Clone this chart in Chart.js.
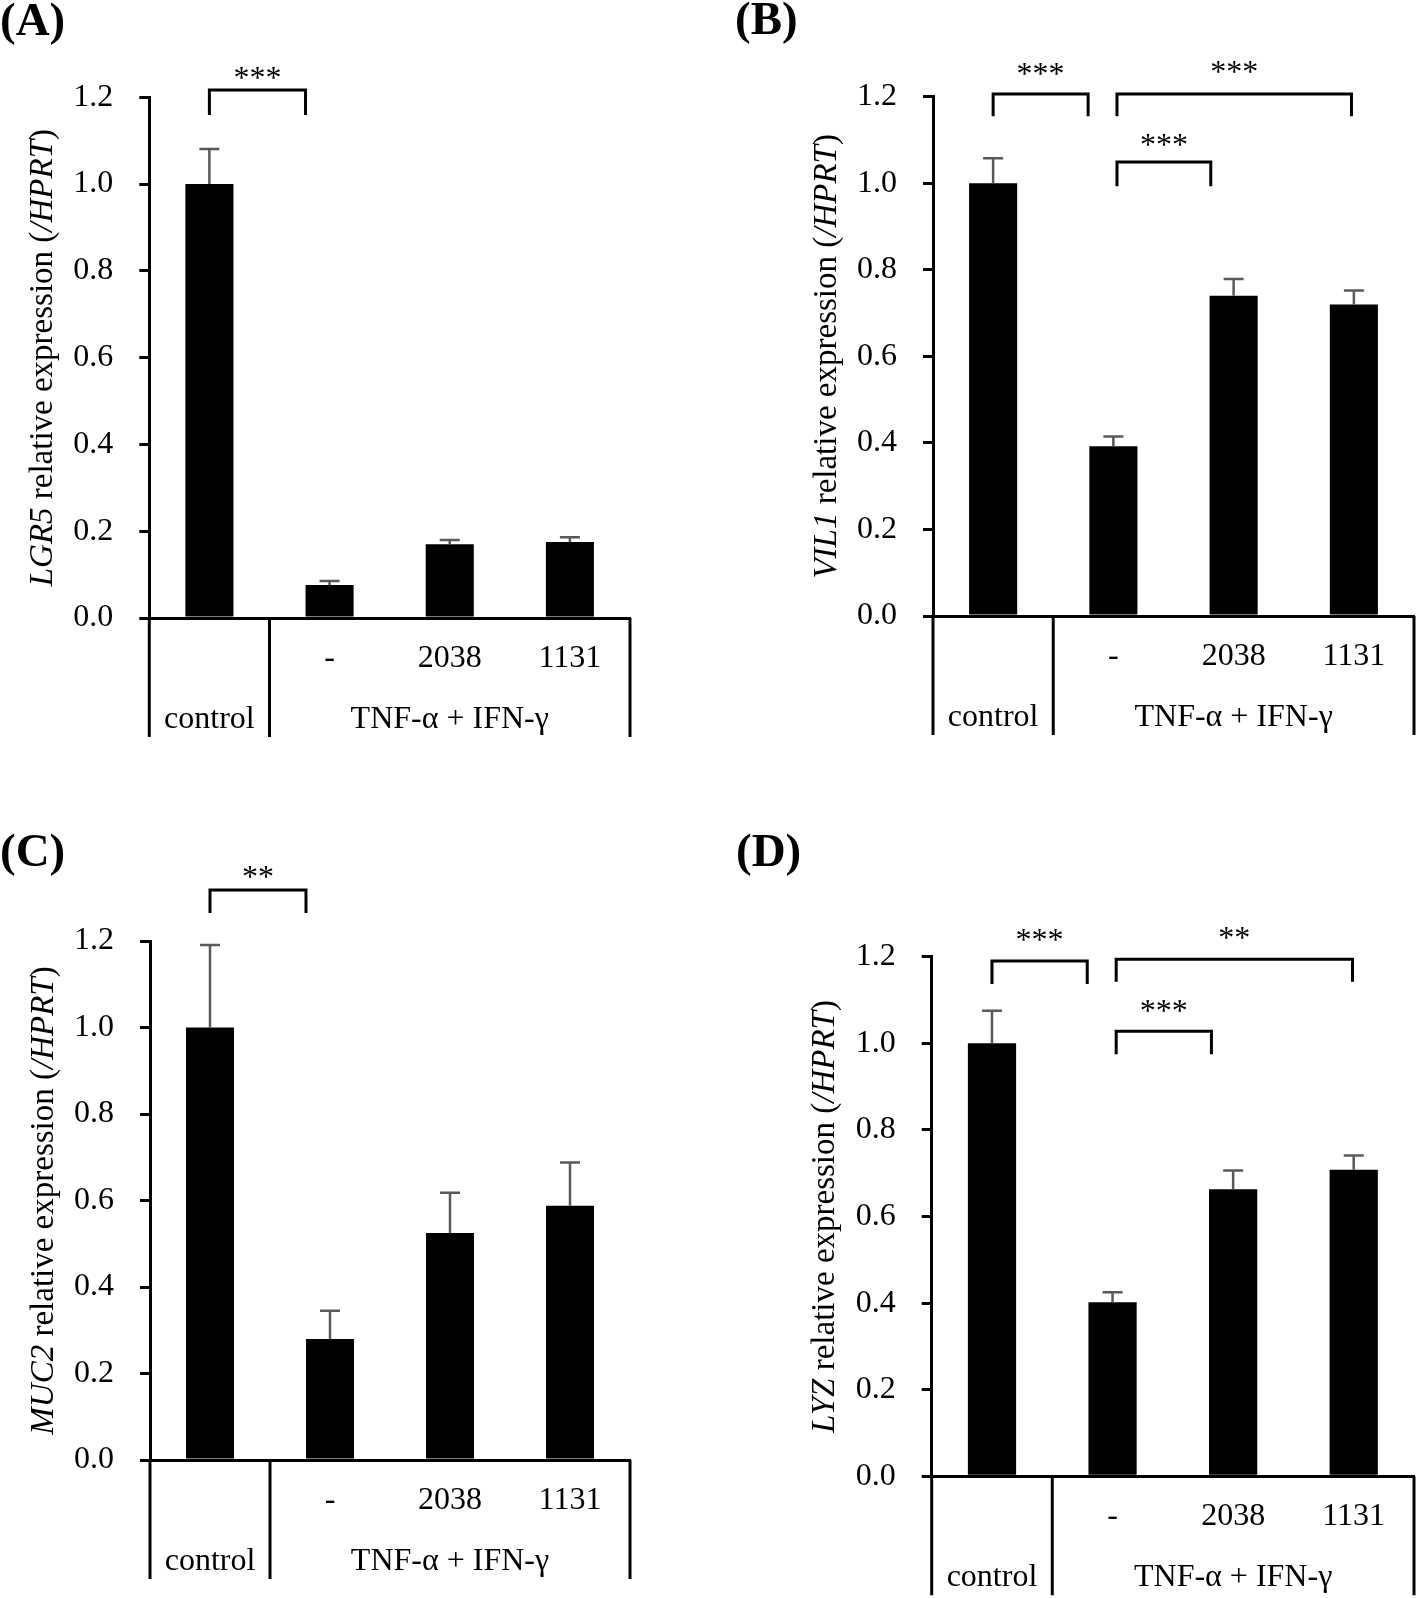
<!DOCTYPE html>
<html>
<head>
<meta charset="utf-8">
<script src="https://cdn.jsdelivr.net/npm/chart.js@4.4.1/dist/chart.umd.min.js"></script>
<style>
  body { margin: 0; background: #fff; width: 1417px; height: 1598px; position: relative; overflow: hidden; }
  canvas { position: absolute; }
</style>
</head>
<body>
<canvas id="chartA"></canvas>
<canvas id="chartB"></canvas>
<canvas id="chartC"></canvas>
<canvas id="chartD"></canvas>
<script>
// categories and table rows
const categories = ['control', '-', '2038', '1131'];
const treatLabels = ['', '-', '2038', '1131'];
const groupLabels = ['control', 'TNF-α + IFN-γ'];
const yMax = 1.2;
const yStep = 0.2;

// means and SD (upper error only)
const lgr5Mean = [1.00, 0.076, 0.170, 0.175];
const lgr5Sd   = [0.081, 0.009, 0.010, 0.011];
const vil1Mean = [1.00, 0.392, 0.740, 0.720];
const vil1Sd   = [0.058, 0.023, 0.039, 0.032];
const muc2Mean = [1.00, 0.280, 0.525, 0.588];
const muc2Sd   = [0.191, 0.065, 0.093, 0.100];
const lyzMean  = [1.00, 0.402, 0.663, 0.708];
const lyzSd    = [0.075, 0.023, 0.043, 0.033];

// significance brackets: from/to (category index), bar y, leg end y, stars, stars y
const lgr5Sig = [[0, 0.8, 1.217, 1.159, '***', 1.257]];
const vil1Sig = [[0, 0.79, 1.206, 1.155, '***', 1.265],
                 [1.03, 2.98, 1.206, 1.155, '***', 1.268],
                 [1.03, 1.81, 1.049, 0.993, '***', 1.100]];
const muc2Sig = [[0, 0.8, 1.318, 1.265, '**', 1.359]];
const lyzSig  = [[0, 0.79, 1.190, 1.137, '***', 1.250],
                 [1.03, 2.99, 1.194, 1.142, '**', 1.255],
                 [1.03, 1.82, 1.028, 0.975, '***', 1.085]];

const SERIF = '"Liberation Serif", "Times New Roman", serif';

const panels = [
  { id: 'chartA', tag: '(A)', gene: 'LGR5', mean: lgr5Mean, sd: lgr5Sd, sig: lgr5Sig,
    left: 0, top: 0, w: 708, h: 760, area: { l: 149.3, r: 630, t: 97.3, b: 618 }, tagX: 0, tagY: 35 },
  { id: 'chartB', tag: '(B)', gene: 'VIL1', mean: vil1Mean, sd: vil1Sd, sig: vil1Sig,
    left: 708, top: 0, w: 709, h: 760, area: { l: 225, r: 706, t: 96.7, b: 616 }, tagX: 27, tagY: 34 },
  { id: 'chartC', tag: '(C)', gene: 'MUC2', mean: muc2Mean, sd: muc2Sd, sig: muc2Sig,
    left: 0, top: 780, w: 708, h: 818, area: { l: 150, r: 630, t: 161, b: 680 }, tagX: 0, tagY: 86 },
  { id: 'chartD', tag: '(D)', gene: 'LYZ', mean: lyzMean, sd: lyzSd, sig: lyzSig,
    left: 708, top: 780, w: 709, h: 818, area: { l: 223.7, r: 706, t: 176.7, b: 696.3 }, tagX: 28, tagY: 86 }
];

// error bars, brackets, y title, table under the axis
const extras = {
  id: 'extras',
  afterDatasetsDraw(chart) {
    const p = chart.options.plugins.extras;
    const ctx = chart.ctx, ys = chart.scales.y;
    ctx.save();
    ctx.strokeStyle = '#595959';
    ctx.lineWidth = 2.5;
    chart.getDatasetMeta(0).data.forEach((bar, i) => {
      const yTop = ys.getPixelForValue(p.mean[i] + p.sd[i]);
      ctx.beginPath();
      ctx.moveTo(bar.x, bar.y);
      ctx.lineTo(bar.x, yTop);
      ctx.moveTo(bar.x - 10, yTop);
      ctx.lineTo(bar.x + 10, yTop);
      ctx.stroke();
    });
    ctx.restore();
  },
  afterDraw(chart) {
    const p = chart.options.plugins.extras;
    const ctx = chart.ctx, xs = chart.scales.x, ys = chart.scales.y;
    const area = chart.chartArea;
    ctx.save();
    ctx.fillStyle = '#000';
    ctx.strokeStyle = '#000';

    // panel tag
    ctx.font = 'bold 47px ' + SERIF;
    ctx.textAlign = 'left';
    ctx.textBaseline = 'alphabetic';
    ctx.fillText(p.tag, p.tagX, p.tagY);

    // brackets
    ctx.lineWidth = 3;
    ctx.lineCap = 'butt';
    ctx.font = '32px ' + SERIF;
    ctx.textAlign = 'center';
    p.sig.forEach(([from, to, yv, legv, stars, sy]) => {
      const x1 = xs.getPixelForValue(from), x2 = xs.getPixelForValue(to);
      const y = ys.getPixelForValue(yv), yl = ys.getPixelForValue(legv);
      ctx.beginPath();
      ctx.moveTo(x1, yl);
      ctx.lineTo(x1, y);
      ctx.lineTo(x2, y);
      ctx.lineTo(x2, yl);
      ctx.stroke();
      ctx.fillText(stars, (x1 + x2) / 2, ys.getPixelForValue(sy) + 15);
    });

    // y title with italic gene names
    const parts = [[p.gene, true], [' relative expression (', false], ['/HPRT', true], [')', false]];
    const fontFor = it => (it ? 'italic ' : '') + '33px ' + SERIF;
    let total = 0;
    parts.forEach(([t, it]) => { ctx.font = fontFor(it); total += ctx.measureText(t).width; });
    ctx.translate(area.left - 106, (area.top + area.bottom) / 2);
    ctx.rotate(-Math.PI / 2);
    ctx.textAlign = 'left';
    ctx.textBaseline = 'middle';
    let x = -total / 2;
    parts.forEach(([t, it]) => {
      ctx.font = fontFor(it);
      ctx.fillText(t, x, 0);
      x += ctx.measureText(t).width;
    });
    ctx.setTransform(1, 0, 0, 1, 0, 0);
    ctx.restore();

    // category table
    ctx.save();
    const bottom = area.bottom + 119;
    ctx.strokeStyle = '#000';
    ctx.lineWidth = 3;
    [area.left, xs.getPixelForValue(0.5), area.right].forEach(lx => {
      ctx.beginPath();
      ctx.moveTo(lx, area.bottom);
      ctx.lineTo(lx, bottom);
      ctx.stroke();
    });
    ctx.fillStyle = '#000';
    ctx.font = '32px ' + SERIF;
    ctx.textAlign = 'center';
    ctx.textBaseline = 'alphabetic';
    treatLabels.forEach((t, i) => ctx.fillText(t, xs.getPixelForValue(i), area.bottom + 49));
    ctx.fillText(groupLabels[0], xs.getPixelForValue(0), area.bottom + 110);
    ctx.fillText(groupLabels[1], xs.getPixelForValue(2), area.bottom + 110);
    ctx.restore();
  }
};

panels.forEach(p => {
  const cv = document.getElementById(p.id);
  cv.width = p.w;
  cv.height = p.h;
  cv.style.left = p.left + 'px';
  cv.style.top = p.top + 'px';
  cv.style.width = p.w + 'px';
  cv.style.height = p.h + 'px';

  new Chart(cv, {
    type: 'bar',
    data: {
      labels: categories,
      datasets: [{
        data: p.mean,
        backgroundColor: '#000',
        borderWidth: 0,
        barPercentage: 0.8,
        categoryPercentage: 0.5
      }]
    },
    options: {
      responsive: false,
      animation: false,
      devicePixelRatio: 1,
      layout: { padding: { left: 0, top: p.area.t, right: p.w - p.area.r, bottom: p.h - p.area.b } },
      plugins: {
        legend: { display: false },
        tooltip: { enabled: false },
        extras: p
      },
      scales: {
        x: {
          ticks: { display: false },
          grid: { display: false, drawTicks: false },
          border: { display: true, color: '#000', width: 3 },
          afterFit: s => { s.height = 0; }
        },
        y: {
          min: 0,
          max: yMax,
          ticks: {
            stepSize: yStep,
            color: '#000',
            padding: 26,
            font: { family: SERIF, size: 32 },
            callback: v => v.toFixed(1)
          },
          grid: { display: true, drawOnChartArea: false, drawTicks: true, tickLength: 10, tickWidth: 3, tickColor: '#000', color: '#000', lineWidth: 3 },
          border: { display: true, color: '#000', width: 3 },
          afterFit: s => { s.width = p.area.l; }
        }
      }
    },
    plugins: [extras]
  });
});
</script>
</body>
</html>
